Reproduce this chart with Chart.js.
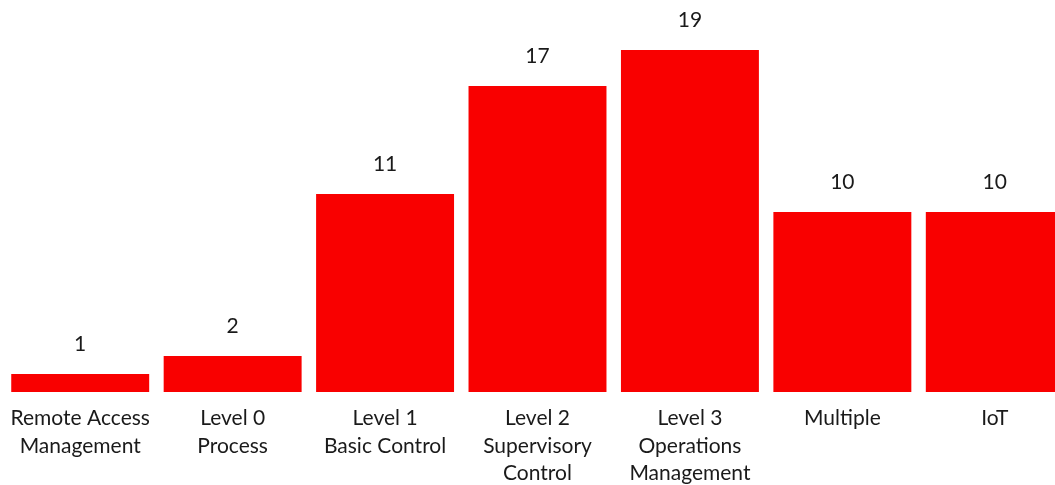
<!DOCTYPE html>
<html>
<head>
<meta charset="utf-8">
<script src="https://cdn.jsdelivr.net/npm/chart.js@4/dist/chart.umd.min.js"></script>
<style>
  html, body { margin: 0; padding: 0; background: #ffffff; overflow: hidden; }
  #wrap { width: 1055px; height: 485px; overflow: hidden; }
  canvas { display: block; }
</style>
</head>
<body>
<div id="wrap"><canvas id="c" width="1075" height="485"></canvas></div>
<script>
// Incident counts by architecture level
const categories = [
  ["Remote Access", "Management"],
  ["Level 0", "Process"],
  ["Level 1", "Basic Control"],
  ["Level 2", "Supervisory", "Control"],
  ["Level 3", "Operations", "Management"],
  "Multiple",
  "IoT"
];
const counts = [1, 2, 11, 17, 19, 10, 10];

const FONT = "Lato, 'Noto Sans', sans-serif";
const TEXT = "#1a1a1a";
const RED = "#f90000";

// Prints each bar's value above it
const valueLabels = {
  id: "valueLabels",
  afterDatasetsDraw(chart) {
    const ctx = chart.ctx;
    const meta = chart.getDatasetMeta(0);
    ctx.save();
    ctx.font = "21px " + FONT;
    ctx.fillStyle = TEXT;
    ctx.textAlign = "center";
    ctx.textBaseline = "middle";
    meta.data.forEach((bar, i) => {
      ctx.fillText(String(counts[i]), bar.x, bar.y - 30);
    });
    ctx.restore();
  }
};

new Chart(document.getElementById("c"), {
  type: "bar",
  data: {
    labels: categories,
    datasets: [{
      data: counts,
      backgroundColor: RED,
      borderWidth: 0,
      barPercentage: 0.905,
      categoryPercentage: 1.0
    }]
  },
  options: {
    responsive: false,
    animation: false,
    layout: { padding: { top: 14, left: 4, right: 4, bottom: 0 } },
    plugins: {
      legend: { display: false },
      tooltip: { enabled: false }
    },
    scales: {
      x: {
        grid: { display: false, drawTicks: false },
        border: { display: false },
        ticks: {
          color: TEXT,
          font: { family: FONT, size: 21, lineHeight: 1.3 },
          padding: 13,
          maxRotation: 0,
          autoSkip: false
        },
        afterFit(scale) {
          scale.height = 93;
          scale.paddingLeft = 0;
          scale.paddingRight = 0;
        }
      },
      y: {
        display: false,
        min: 0,
        max: 21
      }
    }
  },
  plugins: [valueLabels]
});
</script>
</body>
</html>
